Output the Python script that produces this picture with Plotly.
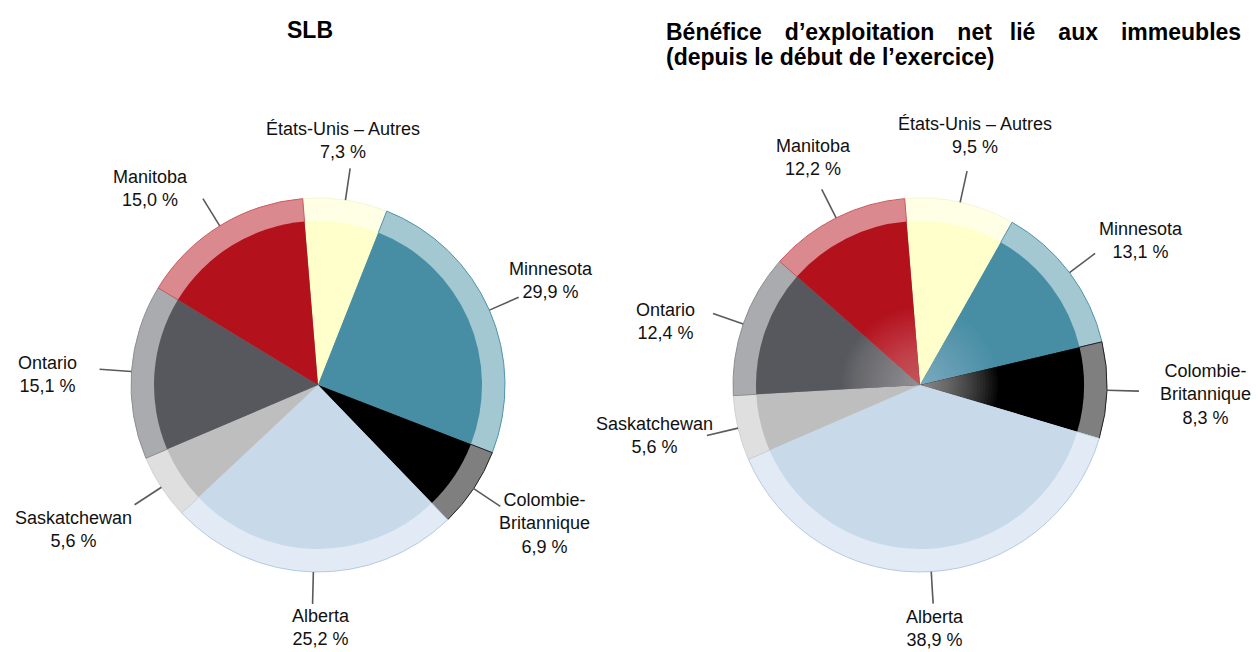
import math
import plotly.graph_objects as go

# ---------------- data ----------------
regions = ["États-Unis – Autres", "Minnesota", "Colombie-Britannique", "Alberta",
           "Saskatchewan", "Ontario", "Manitoba"]
label_text = ["États-Unis – Autres", "Minnesota", "Colombie-<br>Britannique", "Alberta",
              "Saskatchewan", "Ontario", "Manitoba"]

# left chart (SLB) - drawn shares and the printed labels
slb_values = [7.3, 24.9, 6.9, 25.2, 5.6, 15.1, 15.0]
slb_printed = ["7,3 %", "29,9 %", "6,9 %", "25,2 %", "5,6 %", "15,1 %", "15,0 %"]

# right chart (net operating income)
noi_values = [9.5, 13.1, 8.3, 38.9, 5.6, 12.4, 12.2]
noi_printed = ["9,5 %", "13,1 %", "8,3 %", "38,9 %", "5,6 %", "12,4 %", "12,2 %"]

title_left = "SLB"
title_right_1 = ["Bénéfice", "d’exploitation", "net", "lié", "aux", "immeubles"]
title_right_2 = "(depuis le début de l’exercice)"

# ---------------- styles / layout ----------------
inner_colors = ["#FFFFCC", "#478EA4", "#000000", "#C8DAEA", "#BEBEBE", "#57585E", "#B3111C"]
ring_colors = ["#FFFFE6", "#A3C8D2", "#7F7F7F", "#E2EBF5", "#DFDFDF", "#AAABAE", "#DA8A8F"]
ring_edge = ["#F6F6D8", "#4F95AB", "#222222", "#B4CBE0", "#D2D2D2", "#8E8F93", "#CC5A60"]
glow_strength = [0.0, 0.32, 0.55, 0.35, 0.2, 0.4, 0.35]

# small per-label placement nudges (pixels, screen direction)
nudge_left = [(-7, 0), (-13, -8), (-10, 0), (8, -4), (-2, 13), (-16, 7), (-11, 8)]
nudge_right = [(8, -8), (0, 0), (12, 3), (2, -3), (7, -5), (-11, 15), (-8, -4)]

W, H = 1258, 652
R_OUT, R_IN = 187, 164
R_END = 219
ROT = -4.7
FONT = "Liberation Sans, Arial, sans-serif"
LABEL_SIZE = 18
CHAR_W = 9.0
LINE_H = 21


def dom(cx, cy, r):
    return dict(x=[(cx - r) / W, (cx + r) / W], y=[1 - (cy + r) / H, 1 - (cy - r) / H])


fig = go.Figure()
annotations = []
shapes = []


def add_chart(cx, cy, values, printed, nudges, glow=False):
    fig.add_trace(go.Pie(values=values, labels=regions, sort=False, direction="clockwise",
                         rotation=ROT, domain=dom(cx, cy, R_OUT), textinfo="none",
                         hoverinfo="label+percent", showlegend=False,
                         marker=dict(colors=ring_colors, line=dict(color=ring_edge, width=1))))
    fig.add_trace(go.Pie(values=values, labels=regions, sort=False, direction="clockwise",
                         rotation=ROT, domain=dom(cx, cy, R_IN), textinfo="none",
                         hoverinfo="label+percent", showlegend=False,
                         marker=dict(colors=inner_colors, line=dict(width=0))))
    if glow:
        n = 26
        cols = ["rgba(255,255,255,%.4f)" % (1 - (1 - g) ** (1.0 / n)) for g in glow_strength]
        for k in range(n):
            rr = 78 - 3 * k
            fig.add_trace(go.Pie(values=values, labels=regions, sort=False, direction="clockwise",
                                 rotation=ROT, domain=dom(cx, cy, rr), textinfo="none",
                                 hoverinfo="skip", showlegend=False,
                                 marker=dict(colors=cols, line=dict(width=0))))
    total = sum(values)
    cum = 0.0
    for name, v, pct, (ndx, ndy) in zip(label_text, values, printed, nudges):
        mid = math.radians(ROT + 360.0 * (cum + v / 2.0) / total)
        cum += v
        s, c = math.sin(mid), math.cos(mid)
        lines = name.split("<br>") + [pct]
        w = max(len(t) for t in lines) * CHAR_W
        h = len(lines) * LINE_H
        x0, y0 = cx + R_OUT * s, cy - R_OUT * c
        ex, ey = cx + R_END * s, cy - R_END * c
        shapes.append(dict(type="line", xref="paper", yref="paper",
                           x0=x0 / W, y0=1 - y0 / H, x1=ex / W, y1=1 - ey / H,
                           line=dict(color="#5a5a5a", width=1.6)))
        if abs(s) < 0.5:
            tx = ex
            ty = ey - (1 if c > 0 else -1) * (h / 2 + 7)
        else:
            tx = ex + (1 if s > 0 else -1) * (w / 2 + 5)
            ty = ey - c * h / 2
        tx += ndx
        ty += ndy
        annotations.append(dict(
            x=tx / W, y=1 - ty / H, xref="paper", yref="paper", showarrow=False,
            xanchor="center", yanchor="middle",
            text=name + "<br>" + pct,
            font=dict(family=FONT, size=LABEL_SIZE, color="#111111"), align="center"))


add_chart(318, 385, slb_values, slb_printed, nudge_left, glow=False)
add_chart(920, 385, noi_values, noi_printed, nudge_right, glow=True)

# titles
TS = 23
annotations.append(dict(x=310 / W, y=1 - 30 / H, xref="paper", yref="paper", showarrow=False,
                        text="<b>" + title_left + "</b>", xanchor="center", yanchor="middle",
                        font=dict(family=FONT, size=TS, color="#000000")))
gaps = ["\u2002\u2002", "\u2002\u2002", "\u2002\u00a0", "\u2002\u2002", "\u2002\u2002"]
line1 = title_right_1[0] + "".join(g + wd for g, wd in zip(gaps, title_right_1[1:]))
annotations.append(dict(x=664 / W, y=1 - 32 / H, xref="paper", yref="paper", showarrow=False,
                        text="<b>" + line1 + "</b>", xanchor="left", yanchor="middle",
                        font=dict(family=FONT, size=TS, color="#000000")))
annotations.append(dict(x=664 / W, y=1 - 57 / H, xref="paper", yref="paper", showarrow=False,
                        text="<b>" + title_right_2 + "</b>", xanchor="left", yanchor="middle",
                        font=dict(family=FONT, size=TS, color="#000000")))

fig.update_layout(width=W, height=H, autosize=False, margin=dict(l=0, r=0, t=0, b=0),
                  paper_bgcolor="white", plot_bgcolor="white", annotations=annotations,
                  shapes=shapes, showlegend=False)
fig.write_html("out.html", config={"displayModeBar": False},
               post_script="document.body.style.margin='0';document.body.style.overflow='hidden';")
